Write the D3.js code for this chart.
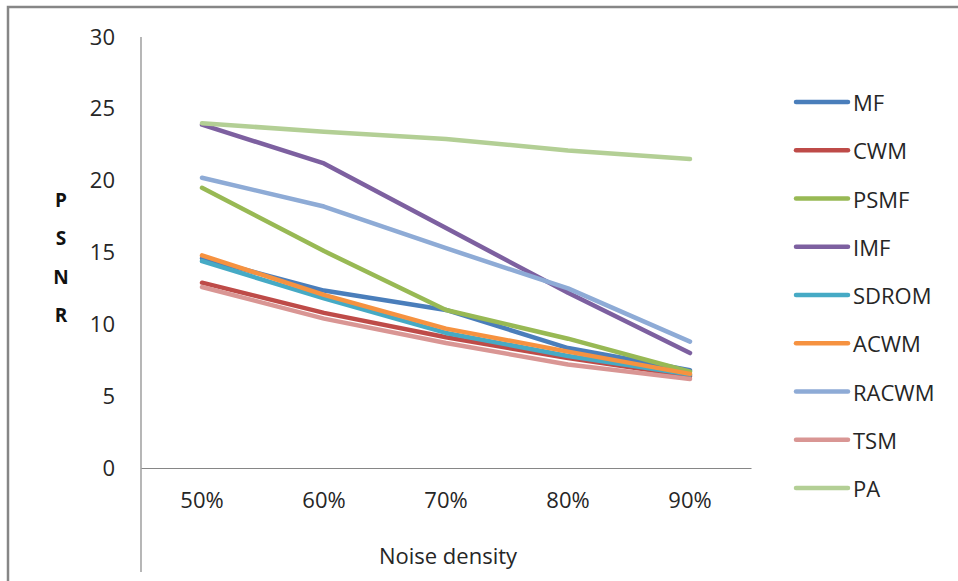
<!DOCTYPE html>
<html>
<head>
<meta charset="utf-8">
<script src="https://cdn.jsdelivr.net/npm/d3@7"></script>
<style>
  html, body { margin: 0; padding: 0; background: #fff; }
  svg { display: block; font-family: "Open Sans", sans-serif; }
</style>
</head>
<body>
<svg id="chart" width="958" height="581"></svg>
<script>
const categories = ["50%", "60%", "70%", "80%", "90%"];
const seriesNames = ["MF", "CWM", "PSMF", "IMF", "SDROM", "ACWM", "RACWM", "TSM", "PA"];
const MF    = [14.6, 12.35, 11.0, 8.35, 6.8];
const CWM   = [12.9, 10.8, 9.1, 7.65, 6.4];
const PSMF  = [19.5, 15.1, 11.0, 9.0, 6.7];
const IMF   = [23.9, 21.2, 16.7, 12.2, 8.0];
const SDROM = [14.4, 11.8, 9.4, 7.8, 6.5];
const ACWM  = [14.8, 12.05, 9.7, 8.1, 6.55];
const RACWM = [20.2, 18.2, 15.3, 12.5, 8.8];
const TSM   = [12.6, 10.4, 8.7, 7.2, 6.2];
const PA    = [24.0, 23.4, 22.9, 22.1, 21.5];
const yTicks = [0, 5, 10, 15, 20, 25, 30];
const yTitle = ["P", "S", "N", "R"];
const xTitle = "Noise density";

const seriesValues = [MF, CWM, PSMF, IMF, SDROM, ACWM, RACWM, TSM, PA];
const colors = ["#4A7EBB", "#BE4B48", "#98B954", "#7D60A0", "#46AAC5", "#F69240", "#8EABD6", "#D99694", "#B3CF95"];

const svg = d3.select("#chart");

// outer border (chart area frame)
svg.append("rect")
  .attr("x", 8).attr("y", 7).attr("width", 1200).attr("height", 1200)
  .attr("fill", "none").attr("stroke", "#868686").attr("stroke-width", 2.5);

const x = d3.scaleBand().domain(categories).range([141, 751]);
const y = d3.scaleLinear().domain([0, 30]).range([468, 37]);

const axisColor = "#868686";
const textColor = "#262626";

// y axis
const gy = svg.append("g").attr("transform", "translate(141,0)")
  .call(d3.axisLeft(y).tickValues(yTicks).tickSize(0).tickPadding(26));
gy.select(".domain").remove();
gy.selectAll("text").attr("font-size", 22).attr("fill", textColor)
  .attr("font-family", "'Open Sans', sans-serif");
svg.append("line")
  .attr("x1", 141).attr("x2", 141).attr("y1", y(30)).attr("y2", 572)
  .attr("stroke", axisColor).attr("stroke-width", 1.2);

// x axis
const gx = svg.append("g").attr("transform", `translate(0,${y(0)})`)
  .call(d3.axisBottom(x).tickSize(0).tickPadding(24));
gx.select(".domain").attr("stroke", axisColor).attr("stroke-width", 1.2);
gx.selectAll("text").attr("font-size", 22).attr("fill", textColor)
  .attr("font-family", "'Open Sans', sans-serif");

// axis titles
svg.append("text").attr("x", 448).attr("y", 555)
  .attr("text-anchor", "middle").attr("dominant-baseline", "central")
  .attr("font-size", 22).attr("fill", textColor).text(xTitle);

svg.append("g").selectAll("text").data(yTitle).join("text")
  .attr("x", 61)
  .attr("y", (d, i) => 200 + i * 38.3)
  .attr("text-anchor", "middle").attr("dominant-baseline", "central")
  .attr("font-size", 19).attr("font-weight", "bold").attr("fill", "#111")
  .text(d => d);

// lines
const line = d3.line()
  .x((d, i) => x(categories[i]) + x.bandwidth() / 2)
  .y(d => y(d));

svg.append("g").selectAll("path").data(seriesValues).join("path")
  .attr("d", d => line(d))
  .attr("fill", "none")
  .attr("stroke", (d, i) => colors[i])
  .attr("stroke-width", 4.5)
  .attr("stroke-linecap", "round")
  .attr("stroke-linejoin", "round");

// legend
const legend = svg.append("g").selectAll("g").data(seriesNames).join("g")
  .attr("transform", (d, i) => `translate(0,${102 + i * 48.25})`);
legend.append("line")
  .attr("x1", 796).attr("x2", 848).attr("y1", 0).attr("y2", 0)
  .attr("stroke", (d, i) => colors[i]).attr("stroke-width", 4.5)
  .attr("stroke-linecap", "round");
legend.append("text")
  .attr("x", 853).attr("y", 0).attr("dominant-baseline", "central")
  .attr("font-size", 22).attr("fill", textColor)
  .text(d => d);
</script>
</body>
</html>
